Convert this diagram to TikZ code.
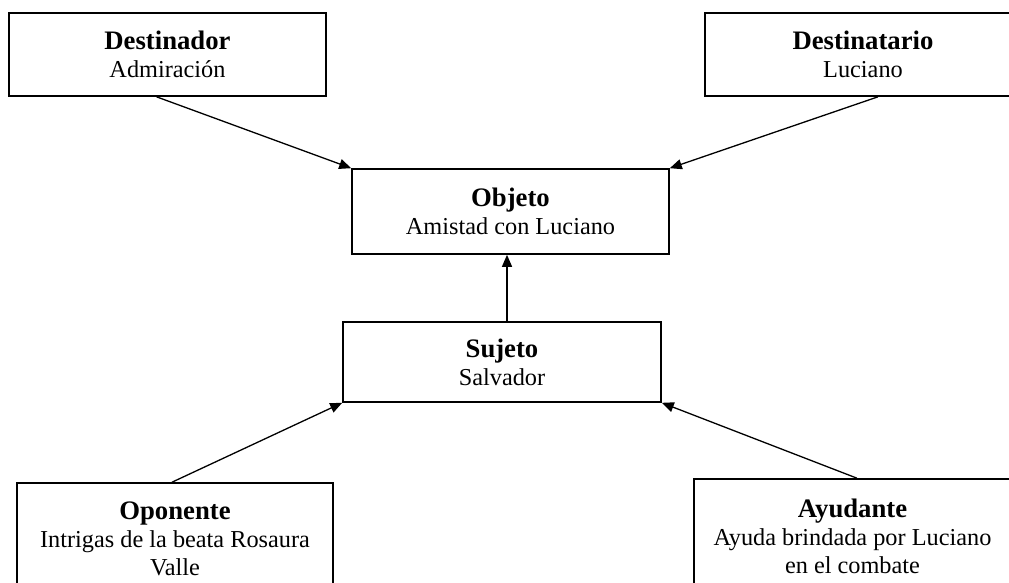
\documentclass[tikz,border=0pt]{standalone}
\usepackage{fontspec}
\setmainfont{Liberation Serif}
\usetikzlibrary{arrows.meta}
\tikzset{
  % caja de cada actante
  actante/.style={
    draw,
    line width=1.6pt,
    align=center,
    inner sep=0pt,
    font=\fontsize{24.3}{28}\selectfont
  },
  % flechas del esquema
  flecha/.style={-{Triangle[length=12pt,width=10pt]}, line width=1.3pt},
}
\newcommand{\rol}[1]{{\fontsize{26.7}{31}\selectfont\bfseries #1}}

\begin{document}
\begin{tikzpicture}[x=1pt, y=-1pt]
    \clip (0,0) rectangle (1009,582);

    % eje del destinador
    \node[actante, minimum width=317pt, minimum height=83pt] (dest) at (167.5, 54.5) {\rol{Destinador}\\Admiración};
    \node[actante, minimum width=316pt, minimum height=83pt] (destin) at (863, 54.5) {\rol{Destinatario}\\Luciano};

    % objeto y sujeto
    \node[actante, minimum width=317pt, minimum height=85pt] (obj) at (510.5, 211.5) {\rol{Objeto}\\Amistad con Luciano};
    \node[actante, minimum width=318pt, minimum height=80pt] (suj) at (502, 362) {\rol{Sujeto}\\Salvador};

    % eje del poder
    \node[actante, minimum width=316pt, minimum height=112pt] (opo) at (175, 539) {\rol{Oponente}\\Intrigas de la beata Rosaura\\Valle};
    \node[actante, minimum width=317pt, minimum height=114pt] (ayu) at (852.5, 536) {\rol{Ayudante}\\Ayuda brindada por Luciano\\en el combate};

    % flechas
    \draw[flecha] ([xshift=-11pt]dest.south) -- (obj.north west);
    \draw[flecha] ([xshift=15pt]destin.south) -- (obj.north east);
    \draw[flecha] ([xshift=5pt]suj.north) -- ([xshift=5pt]suj.north |- obj.south);
    \draw[flecha] ([xshift=-3pt]opo.north) -- (suj.south west);
    \draw[flecha] ([xshift=4.5pt]ayu.north) -- (suj.south east);
\end{tikzpicture}
\end{document}
